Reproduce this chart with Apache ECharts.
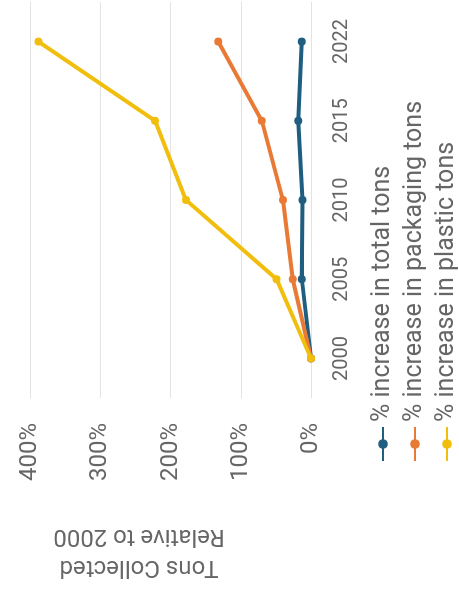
<!DOCTYPE html>
<html>
<head>
<meta charset="utf-8">
<script src="https://cdn.jsdelivr.net/npm/echarts@6/dist/echarts.min.js"></script>
<style>
  html, body { margin: 0; padding: 0; width: 459px; height: 592px; overflow: hidden; background: #fff; }
  #chart { position: absolute; left: 0; top: 0; width: 592px; height: 459px;
           transform-origin: 0 0; transform: translate(0, 592px) rotate(-90deg); }
</style>
</head>
<body>
<div id="chart"></div>
<script>
const years = ['2000', '2005', '2010', '2015', '2022'];
const totalTons = [0, 13, 12, 18, 13];
const packagingTons = [0, 26, 40, 70, 132];
const plasticTons = [0, 49, 178, 222, 388];
const seriesNames = ['% increase in total tons', '% increase in packaging tons', '% increase in plastic tons'];
const seriesColors = ['#1F5E80', '#E97A35', '#F2BE0E'];
const valueTicks = [0, 100, 200, 300, 400];
const axisTitle = 'Tons Collected\nRelative to 2000';

const FONT = 'Roboto, "Liberation Sans", sans-serif';
const TXT = '#666666';

const chart = echarts.init(document.getElementById('chart'), null, { renderer: 'canvas' });
const dataSets = [totalTons, packagingTons, plasticTons];

chart.setOption({
  animation: false,
  textStyle: { fontFamily: FONT },
  grid: { left: 194, right: 2, top: 30, bottom: 148 },
  legend: {
    orient: 'vertical',
    left: 130,
    top: 370,
    height: 200,
    padding: 0,
    itemWidth: 34,
    itemHeight: 12,
    itemGap: 6,
    textStyle: { fontFamily: FONT, fontSize: 25, color: TXT, lineHeight: 26 },
    data: seriesNames
  },
  xAxis: {
    type: 'category',
    data: years,
    boundaryGap: true,
    axisLine: { show: false },
    axisTick: { show: false },
    axisLabel: { fontFamily: FONT, fontSize: 20, color: TXT, margin: 21 }
  },
  yAxis: {
    type: 'value',
    min: valueTicks[0],
    max: valueTicks[valueTicks.length - 1],
    interval: 100,
    axisLine: { show: false },
    axisTick: { show: false },
    splitLine: { lineStyle: { color: '#E3E3E3', width: 1 } },
    axisLabel: { fontFamily: FONT, fontSize: 24, color: TXT, margin: 25, formatter: v => v + '%' }
  },
  graphic: [{
    type: 'text',
    x: 40,
    y: 139,
    rotation: Math.PI / 2,
    style: {
      text: axisTitle,
      fontFamily: FONT,
      fontSize: 24,
      lineHeight: 31,
      fill: TXT,
      align: 'center',
      verticalAlign: 'middle'
    }
  }],
  series: seriesNames.map((name, i) => ({
    name: name,
    type: 'line',
    data: dataSets[i],
    color: seriesColors[i],
    symbol: 'circle',
    symbolSize: 8,
    showSymbol: true,
    lineStyle: { width: 4, color: seriesColors[i] },
    itemStyle: { color: seriesColors[i] },
    z: 2 + i
  }))
});
</script>
</body>
</html>
